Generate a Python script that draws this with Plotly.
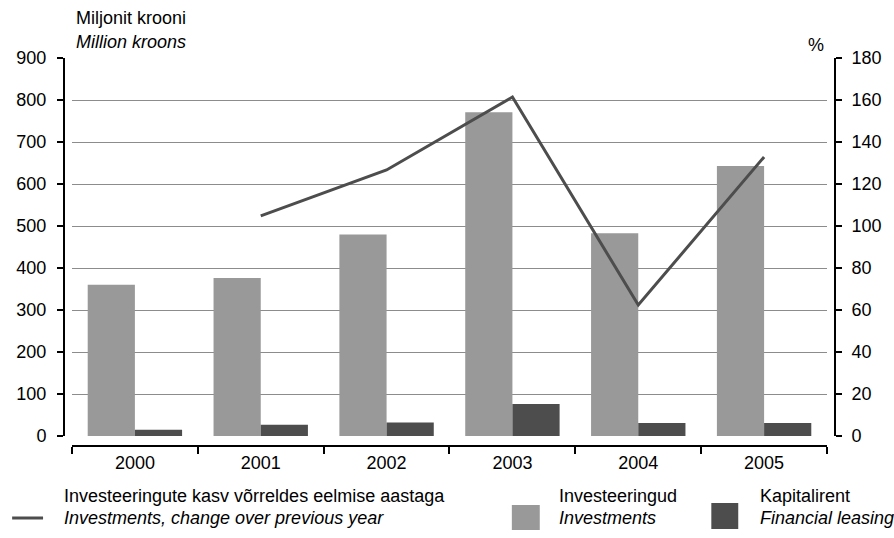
import plotly.graph_objects as go

years = ["2000", "2001", "2002", "2003", "2004", "2005"]
investments = [360, 376, 480, 771, 483, 643]
leasing = [15, 27, 32, 76, 31, 31]
growth_years = ["2001", "2002", "2003", "2004", "2005"]
growth = [104.8, 126.7, 161.4, 62.4, 132.9]

left_ticks = [0, 100, 200, 300, 400, 500, 600, 700, 800, 900]
right_ticks = [0, 20, 40, 60, 80, 100, 120, 140, 160, 180]

W, H = 894, 538
L, R, T, B = 64, 57, 58, 92
PW, PH = W - L - R, H - T - B


def px(x):
    return (x - L) / PW


def py(y):
    return (H - B - y) / PH


FONT = "Liberation Sans, Arial, sans-serif"
FS = 18
GREY = "#999999"
DARK = "#4d4d4d"

fig = go.Figure()
fig.add_trace(go.Bar(x=years, y=investments, name="Investeeringud", marker_color=GREY,
                     marker_line_width=0))
fig.add_trace(go.Bar(x=years, y=leasing, name="Kapitalirent", marker_color=DARK,
                     marker_line_width=0))
fig.add_trace(go.Scatter(x=growth_years, y=growth, yaxis="y2", mode="lines",
                         line=dict(color=DARK, width=3),
                         name="Investeeringute kasv"))

ydom0 = py(436)
fig.update_layout(
    width=W, height=H,
    margin=dict(l=L, r=R, t=T, b=B),
    plot_bgcolor="white", paper_bgcolor="white",
    showlegend=False,
    barmode="group", bargap=0.25, bargroupgap=0,
    font=dict(family=FONT, size=FS, color="black"),
    xaxis=dict(domain=[px(72), px(829)], anchor="free", position=0,
               type="category", tickson="boundaries", ticks="outside",
               ticklen=7, tickwidth=1.5, tickcolor="black",
               showline=True, linecolor="black", linewidth=2,
               showgrid=False, tickfont=dict(size=FS)),
    # grid-only axis, anchored to x so its gridlines span the category area
    yaxis=dict(domain=[ydom0, 1], range=[0, 900], anchor="x",
               tickvals=left_ticks, showticklabels=False, ticks="",
               showline=False, showgrid=True, gridcolor="#8c8c8c", gridwidth=1,
               zeroline=False),
    yaxis2=dict(domain=[ydom0, 1], range=[0, 180], overlaying="y", side="right",
                anchor="free", position=1,
                tickvals=right_ticks, ticks="outside", ticklen=6, tickwidth=1.5,
                tickcolor="black", showline=True, linecolor="black", linewidth=2,
                showgrid=False, zeroline=False, ticklabelstandoff=6,
                tickfont=dict(size=FS)),
    yaxis3=dict(domain=[ydom0, 1], range=[0, 900], overlaying="y", side="left",
                anchor="free", position=0,
                tickvals=left_ticks, ticks="outside", ticklen=6, tickwidth=1.5,
                tickcolor="black", showline=True, linecolor="black", linewidth=2,
                showgrid=False, zeroline=False, ticklabelstandoff=7,
                tickfont=dict(size=FS)),
)
# invisible helper so yaxis3 is drawn
fig.add_trace(go.Scatter(x=[years[0]], y=[left_ticks[0]], yaxis="y3", mode="markers",
                         marker=dict(opacity=0), hoverinfo="skip", showlegend=False))

ann = [
    dict(x=px(74), y=py(18), text="Miljonit krooni", xanchor="left"),
    dict(x=px(74), y=py(42), text="<i>Million kroons</i>", xanchor="left"),
    dict(x=px(828), y=py(45), text="%", xanchor="right"),
    dict(x=px(62), y=py(496), text="Investeeringute kasv võrreldes eelmise aastaga", xanchor="left"),
    dict(x=px(62), y=py(518), text="<i>Investments, change over previous year</i>", xanchor="left"),
    dict(x=px(558), y=py(496), text="Investeeringud", xanchor="left"),
    dict(x=px(558), y=py(518), text="<i>Investments</i>", xanchor="left"),
    dict(x=px(760), y=py(496), text="Kapitalirent", xanchor="left"),
    dict(x=px(760), y=py(518), text="<i>Financial leasing</i>", xanchor="left"),
]
for a in ann:
    fig.add_annotation(xref="paper", yref="paper", yanchor="middle", showarrow=False,
                       font=dict(family=FONT, size=FS, color="black"), **a)

fig.add_shape(type="line", xref="paper", yref="paper", x0=px(12), x1=px(43),
              y0=py(518), y1=py(518), line=dict(color=DARK, width=3))
fig.add_shape(type="rect", xref="paper", yref="paper", x0=px(513), x1=px(541),
              y0=py(530), y1=py(505), line_width=0, fillcolor=GREY)
fig.add_shape(type="rect", xref="paper", yref="paper", x0=px(713), x1=px(740),
              y0=py(529), y1=py(503), line_width=0, fillcolor=DARK)

fig.write_html("out.html", config={"displayModeBar": False},
               post_script="document.body.style.margin='0';document.body.style.overflow='hidden';")
